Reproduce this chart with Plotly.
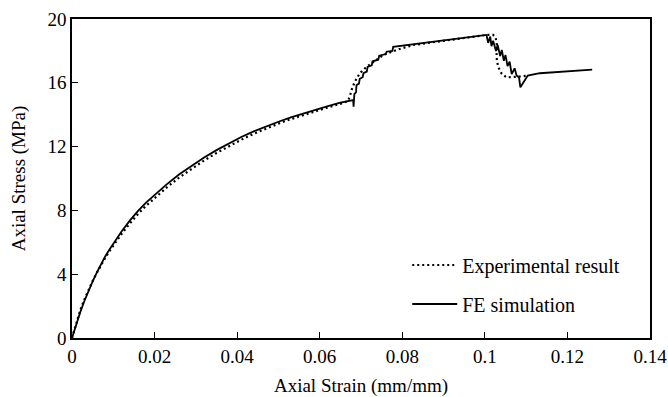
import plotly.graph_objects as go

# FE simulation (solid)
fe_strain = [0, 0.001, 0.002, 0.003, 0.004, 0.005, 0.006, 0.007, 0.008, 0.009, 0.010, 0.012, 0.014, 0.016,
             0.018, 0.020, 0.023, 0.026, 0.029, 0.032, 0.035, 0.038, 0.041, 0.044, 0.047, 0.050, 0.053,
             0.056, 0.059, 0.062, 0.065, 0.0681,
             0.0682, 0.0684, 0.0688, 0.0689, 0.0695, 0.0697, 0.0704, 0.0706, 0.0714, 0.0716, 0.0726, 0.0728,
             0.0742, 0.0744, 0.0760, 0.0762, 0.0776, 0.0778, 0.1004,
             0.1008, 0.1013, 0.1016, 0.1020, 0.1027, 0.1031, 0.1037, 0.1041, 0.1046, 0.1050, 0.1055, 0.1060,
             0.1065, 0.1072, 0.1077, 0.1080, 0.1083, 0.1086, 0.1104, 0.1133, 0.126]
fe_stress = [0, 0.85, 1.62, 2.32, 2.96, 3.55, 4.1, 4.62, 5.1, 5.52, 5.92, 6.68, 7.36, 7.97,
             8.5, 8.97, 9.65, 10.27, 10.82, 11.32, 11.78, 12.2, 12.6, 12.95, 13.27, 13.56, 13.83,
             14.08, 14.32, 14.54, 14.75, 14.92,
             14.5, 15.3, 15.4, 15.85, 15.95, 16.25, 16.35, 16.6, 16.7, 17.0, 17.1, 17.35,
             17.45, 17.7, 17.8, 17.95, 18.0, 18.26, 19.0,
             18.5, 18.9, 18.3, 18.64, 18.0, 18.37, 17.68, 18.06, 17.38, 17.74, 17.05, 17.32,
             16.55, 16.91, 16.45, 16.4, 16.3, 15.72, 16.45, 16.6, 16.82]

# Experimental result (dotted)
exp_strain = [0, 0.001, 0.002, 0.003, 0.004, 0.005, 0.006, 0.007, 0.008, 0.009, 0.010, 0.012, 0.014, 0.016,
              0.018, 0.020, 0.023, 0.026, 0.029, 0.032, 0.035, 0.038, 0.041, 0.044, 0.047, 0.050, 0.053,
              0.056, 0.059, 0.062, 0.065, 0.0668,
              0.0673, 0.0677, 0.0685, 0.0697, 0.0714, 0.0730, 0.0754, 0.0786, 0.0826, 0.1004, 0.1020, 0.1026,
              0.1030, 0.1028, 0.1032, 0.1040, 0.1052, 0.1077, 0.1093, 0.1104]
exp_stress = [0, 0.95, 1.75, 2.42, 3.02, 3.57, 4.08, 4.56, 5.0, 5.42, 5.8, 6.52, 7.18, 7.78,
              8.3, 8.78, 9.45, 10.07, 10.62, 11.13, 11.6, 12.03, 12.43, 12.8, 13.13, 13.44, 13.72,
              13.98, 14.23, 14.46, 14.68, 14.85,
              15.13, 15.55, 16.07, 16.6, 17.01, 17.32, 17.74, 18.06, 18.37, 19.0, 19.0, 18.85,
              18.26, 17.64, 17.01, 16.6, 16.34, 16.38, 16.43, 16.45]

x_ticks = [0, 0.02, 0.04, 0.06, 0.08, 0.1, 0.12, 0.14]
x_tick_labels = ["0", "0.02", "0.04", "0.06", "0.08", "0.1", "0.12", "0.14"]
y_ticks = [0, 4, 8, 12, 16, 20]

FONT = "Liberation Serif, Times New Roman, serif"

fig = go.Figure()
fig.add_trace(go.Scatter(x=exp_strain, y=exp_stress, mode="lines", name="Experimental result",
                         line=dict(color="black", width=2.2, dash="2px,3px"), legendgroup="a"))
fig.add_trace(go.Scatter(x=fe_strain, y=fe_stress, mode="lines", name="FE simulation",
                         line=dict(color="black", width=1.8), legendgroup="b"))

fig.update_layout(
    width=668, height=397,
    margin=dict(l=72, r=18, t=19, b=59),
    paper_bgcolor="white", plot_bgcolor="white",
    font=dict(family=FONT, size=19, color="black"),
    showlegend=True,
    legend=dict(x=0.58, y=0.29, xanchor="left", yanchor="top", bgcolor="rgba(0,0,0,0)",
                tracegroupgap=10, itemwidth=45, font=dict(family=FONT, size=20)),
    xaxis=dict(range=[0, 0.14], tickvals=x_ticks, ticktext=x_tick_labels, ticks="inside", ticklen=6,
               tickcolor="black", showline=True, linecolor="black", linewidth=1.5, mirror=True,
               showgrid=False, zeroline=False, automargin=False,
               title=dict(text="Axial Strain (mm/mm)", standoff=13, font=dict(family=FONT, size=19))),
    yaxis=dict(range=[0, 20], tickvals=y_ticks, ticks="inside", ticklen=6, tickcolor="black",
               showline=True, linecolor="black", linewidth=1.5, mirror=True,
               showgrid=False, zeroline=False, automargin=False,
               title=dict(text="Axial Stress (MPa)", standoff=17, font=dict(family=FONT, size=19))),
)

fig.write_html("out.html", post_script="document.body.style.margin='0';",
               config={"displayModeBar": False})
